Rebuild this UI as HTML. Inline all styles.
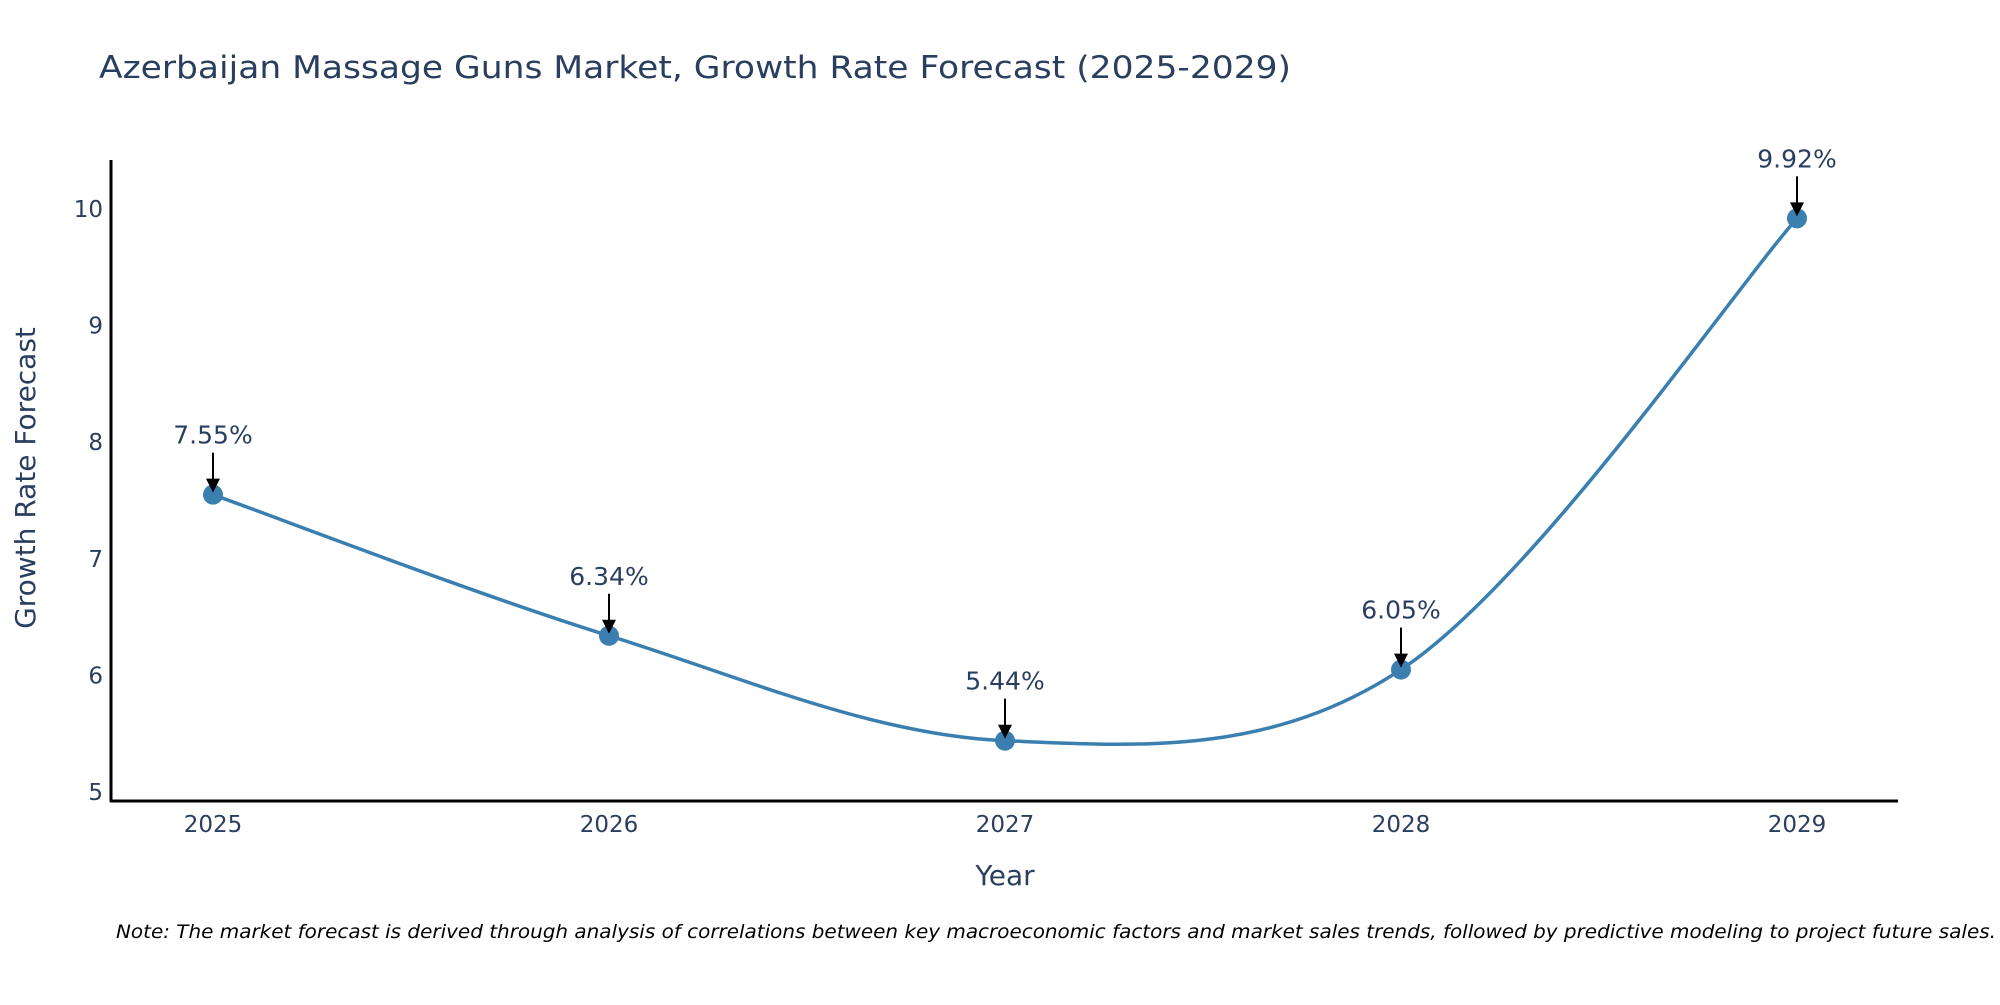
<!DOCTYPE html>
<html><head><meta charset="utf-8"><style>
html,body{margin:0;padding:0;background:#fff;}
svg text{font-family:"DejaVu Sans","Liberation Sans",sans-serif;fill:#2a3f5f;}
</style></head><body>
<svg width="2000" height="1000" viewBox="0 0 2000 1000" xmlns="http://www.w3.org/2000/svg">
<text x="99" y="78" font-size="31" textLength="1192" lengthAdjust="spacingAndGlyphs">Azerbaijan Massage Guns Market, Growth Rate Forecast (2025-2029)</text>
<g id="yticks"></g>
<g id="xticks"></g>
<line x1="111" y1="160" x2="111" y2="802" stroke="#000" stroke-width="3"/>
<line x1="110" y1="801" x2="1898" y2="801" stroke="#000" stroke-width="3"/>
<path id="line" fill="none" stroke="#3a7fb0" stroke-width="3.5"/>
<g id="points"></g>
<g id="annots"></g>
<text x="1005" y="885" font-size="28" text-anchor="middle">Year</text>
<text transform="translate(35,478) rotate(-90)" font-size="28" text-anchor="middle">Growth Rate Forecast</text>
<text x="116" y="938" font-size="19" font-style="italic" fill="#000" style="fill:#000" textLength="1880" lengthAdjust="spacingAndGlyphs">Note: The market forecast is derived through analysis of correlations between key macroeconomic factors and market sales trends, followed by predictive modeling to project future sales.</text>
</svg>
<script>
const years = ['2025','2026','2027','2028','2029'];
const values = [7.55, 6.34, 5.44, 6.05, 9.92];
const labels = ['7.55%','6.34%','5.44%','6.05%','9.92%'];
const yTicks = [5,6,7,8,9,10];
const NS='http://www.w3.org/2000/svg';
function xs(i){return 213 + i*396;}
function ys(v){return 792 - (v-5)*116.6;}
function mk(tag,attrs,parent){const e=document.createElementNS(NS,tag);for(const k in attrs)e.setAttribute(k,attrs[k]);parent.appendChild(e);return e;}
const yg=document.getElementById('yticks');
yTicks.forEach(t=>{const e=mk('text',{x:103,y:ys(t)+8,'font-size':23,'text-anchor':'end'},yg);


e.textContent=t;});
const xg=document.getElementById('xticks');
years.forEach((y,i)=>{const e=mk('text',{x:xs(i),y:832,'font-size':23,'text-anchor':'middle'},xg);


e.textContent=y;});
const P=values.map((v,i)=>[xs(i),ys(v)]);
let d='M'+P[0][0]+','+P[0][1];
for(let i=0;i<P.length-1;i++){const p0=P[Math.max(i-1,0)],p1=P[i],p2=P[i+1],p3=P[Math.min(i+2,P.length-1)];
const k=6;
d+=' C'+(p1[0]+(p2[0]-p0[0])/k)+','+(p1[1]+(p2[1]-p0[1])/k)+' '+(p2[0]-(p3[0]-p1[0])/k)+','+(p2[1]-(p3[1]-p1[1])/k)+' '+p2[0]+','+p2[1];}
document.getElementById('line').setAttribute('d',d);
const pg=document.getElementById('points'),ag=document.getElementById('annots');
P.forEach((p,i)=>{const c=mk('circle',{cx:p[0],cy:p[1],r:10,fill:'#3a7fb0'},pg);


const l=mk('line',{x1:p[0],y1:p[1]-42,x2:p[0],y2:p[1]-14,stroke:'#000','stroke-width':2},ag);


const h=mk('polygon',{points:(p[0]-7)+','+(p[1]-16)+' '+(p[0]+7)+','+(p[1]-16)+' '+p[0]+','+(p[1]-2),fill:'#000'},ag);


const t=mk('text',{x:p[0],y:p[1]-51,'font-size':25,'text-anchor':'middle'},ag);


t.textContent=labels[i];});
</script>
</body></html>
